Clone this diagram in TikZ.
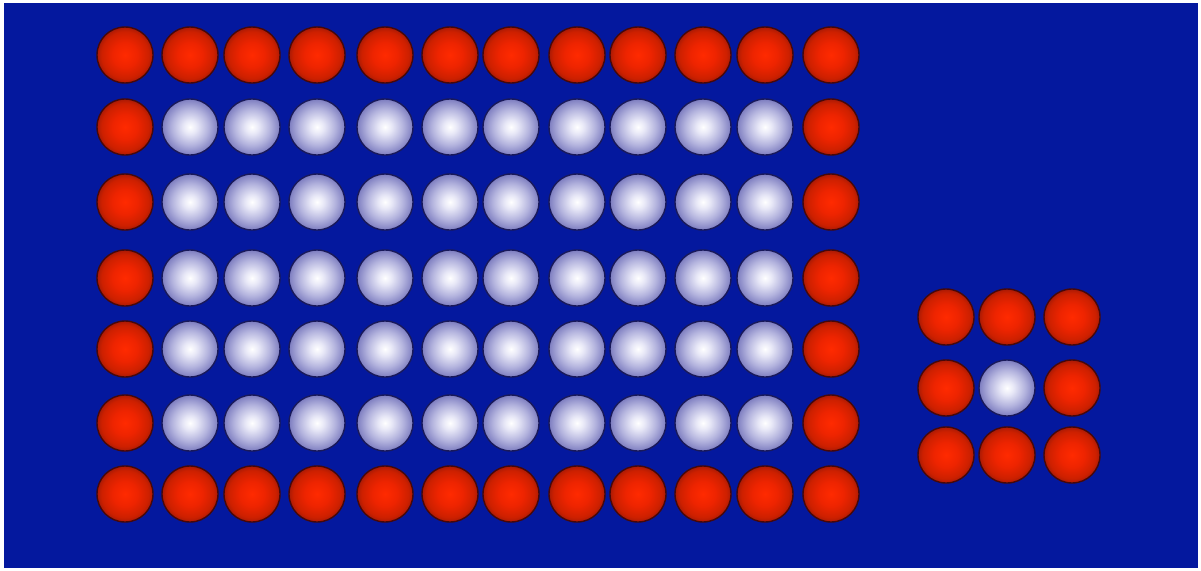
\documentclass[tikz,border=0pt]{standalone}
\usetikzlibrary{shadings}
\definecolor{bg}{RGB}{4,24,158}
\definecolor{redrim}{RGB}{70,8,10}
\definecolor{whiterim}{RGB}{25,25,90}
\definecolor{rA}{RGB}{255,42,0}
\definecolor{rB}{RGB}{238,36,0}
\definecolor{rC}{RGB}{205,32,0}
\definecolor{rD}{RGB}{170,26,5}
\definecolor{wA}{RGB}{255,255,255}
\definecolor{wB}{RGB}{232,232,247}
\definecolor{wC}{RGB}{180,180,222}
\definecolor{wD}{RGB}{125,125,192}
\pgfdeclareradialshading{redballsh}{\pgfpoint{0bp}{0bp}}{%
  color(0bp)=(rA); color(11bp)=(rB); color(21bp)=(rC); color(25bp)=(rD); color(50bp)=(rD)}
\pgfdeclareradialshading{whiteballsh}{\pgfpoint{0bp}{0bp}}{%
  color(0bp)=(wA); color(6bp)=(wB); color(16bp)=(wC); color(25bp)=(wD); color(50bp)=(wD)}
\tikzset{
  ball/.style={circle, minimum size=56pt, inner sep=0pt, line width=1.4pt},
  redball/.style={ball, draw=redrim, shade, shading=redballsh},
  whiteball/.style={ball, draw=whiterim, shade, shading=whiteballsh}
}
\begin{document}
\begin{tikzpicture}[x=1pt,y=-1pt]
\useasboundingbox (0,0) rectangle (1201,570);
\fill[white] (0,0) rectangle (1201,570);
\fill[bg] (4,3) rectangle (1198,568);
% large grid
\foreach \c/\x in {1/125,2/190,3/252,4/317,5/385,6/450,7/511,8/577,9/638,10/703,11/765,12/831}{
  \foreach \r/\y in {1/55,2/127,3/202,4/278,5/349,6/423,7/494}{
    \pgfmathtruncatemacro{\edge}{(\c==1 || \c==12 || \r==1 || \r==7) ? 1 : 0}
    \ifnum\edge=1
      \node[redball] (a-\r-\c) at (\x,\y) {};
    \else
      \node[whiteball] (a-\r-\c) at (\x,\y) {};
    \fi
  }
}
% small grid
\foreach \c/\x in {1/946,2/1007,3/1072}{
  \foreach \r/\y in {1/317,2/388,3/455}{
    \pgfmathtruncatemacro{\mid}{(\c==2 && \r==2) ? 1 : 0}
    \ifnum\mid=1
      \node[whiteball] (b-\r-\c) at (\x,\y) {};
    \else
      \node[redball] (b-\r-\c) at (\x,\y) {};
    \fi
  }
}
\end{tikzpicture}
\end{document}
